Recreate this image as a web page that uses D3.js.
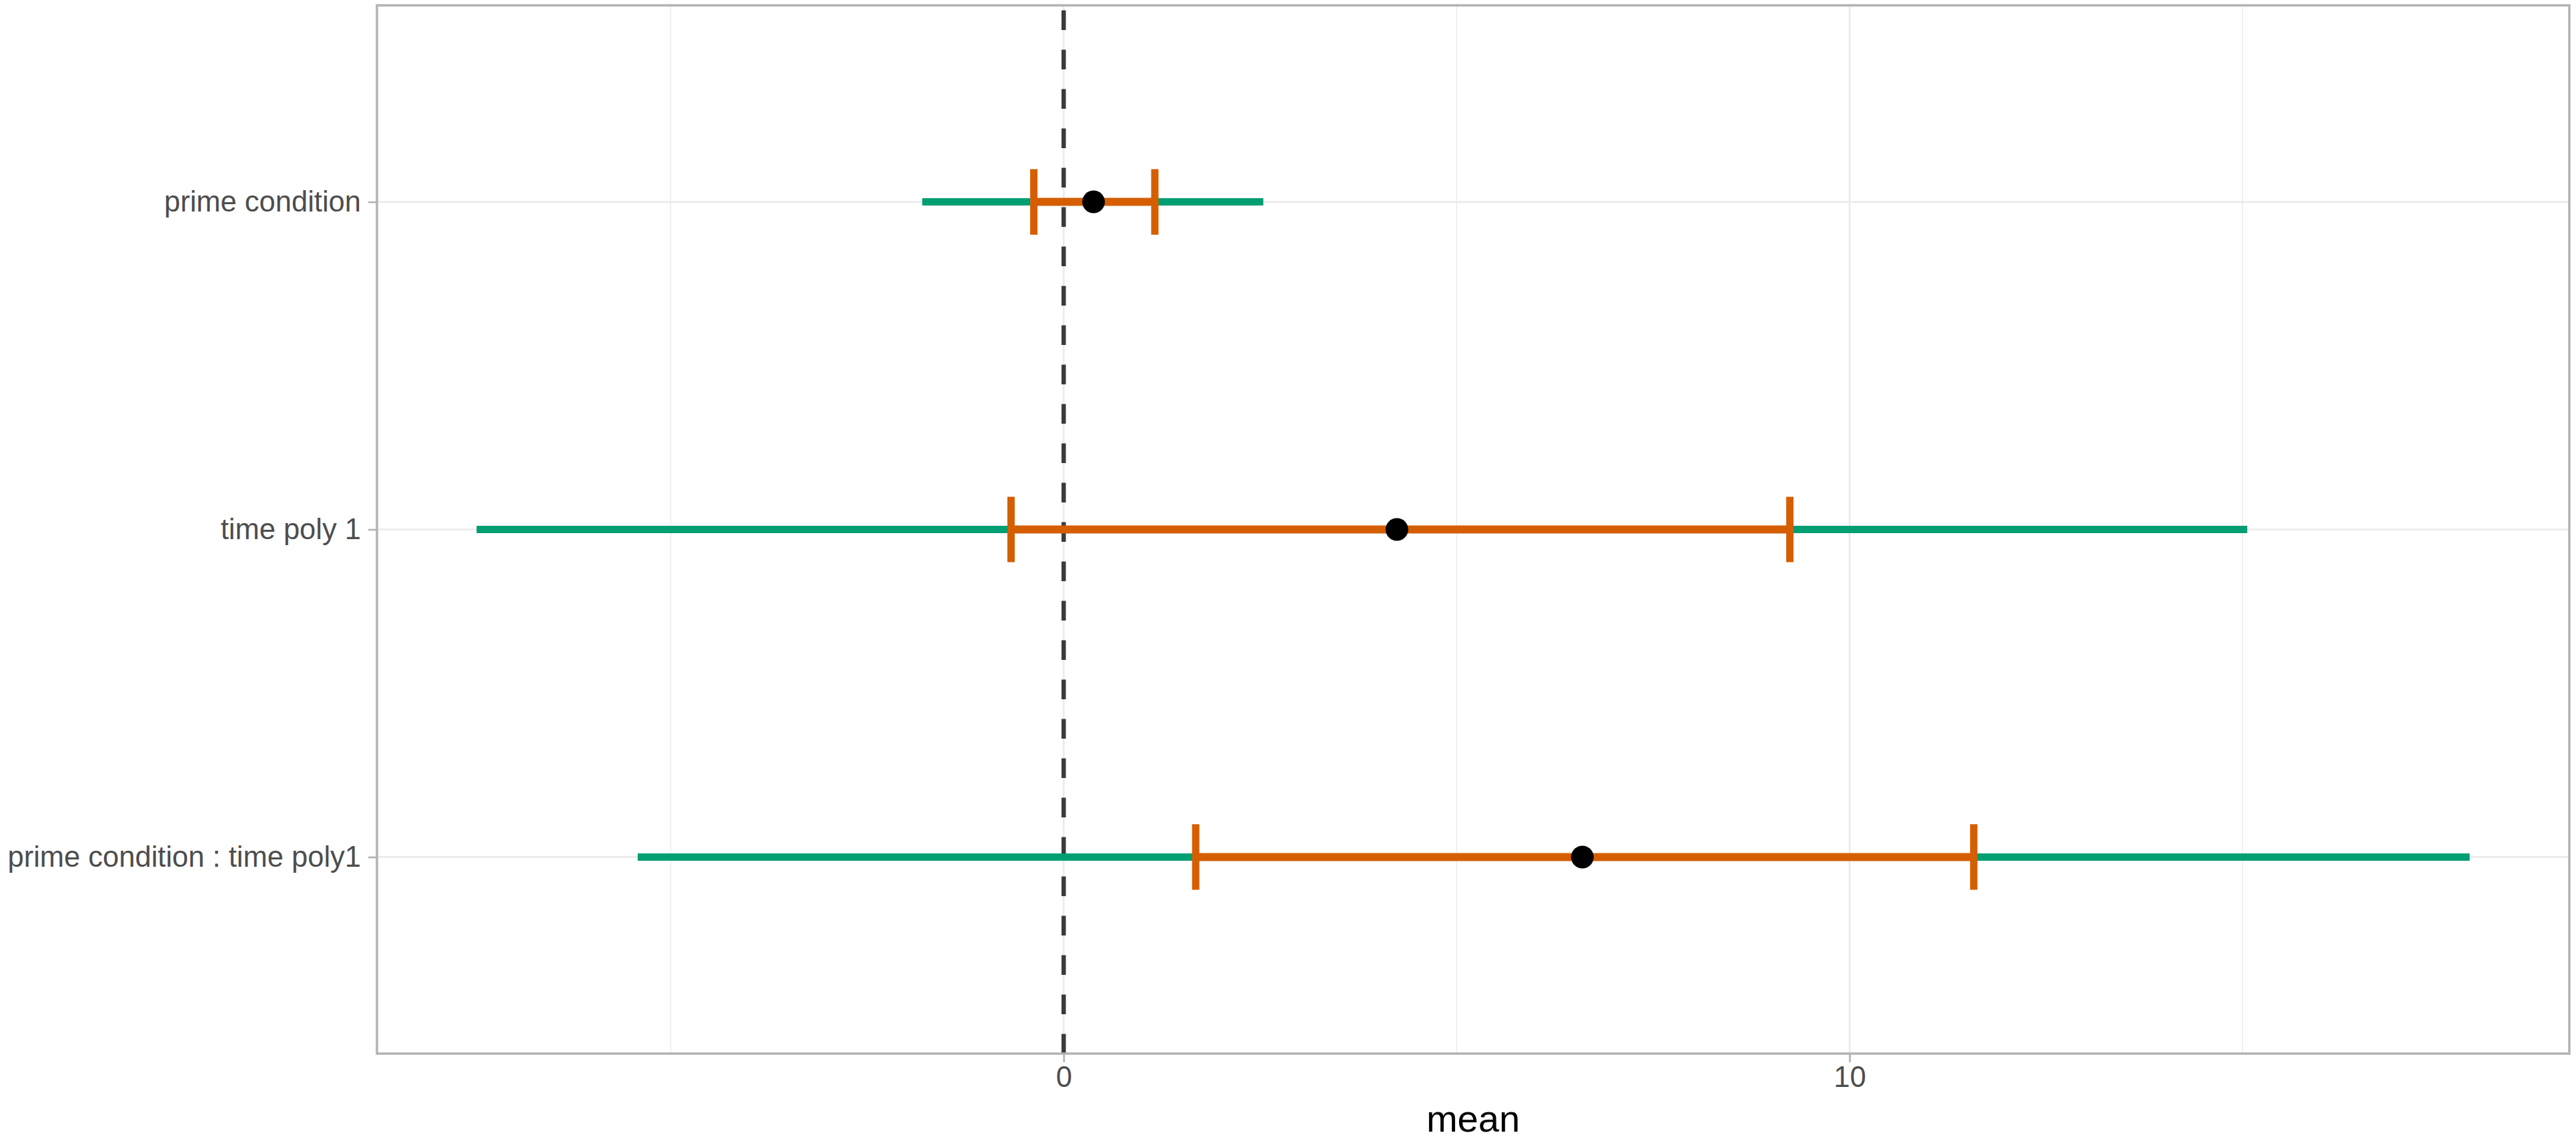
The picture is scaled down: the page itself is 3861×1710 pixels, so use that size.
<html><head>
<title>Coefficient intervals</title>
<script src="https://cdnjs.cloudflare.com/ajax/libs/d3/7.8.5/d3.min.js"></script>
<style>

  body {
    margin: 0;
    background: white;
  }

  .grid-major {
    stroke: #ebebeb;
    stroke-width: 2.7px;
  }

  .grid-minor {
    stroke: #ebebeb;
    stroke-width: 1.4px;
  }

  .axis text {
    font-family: "Liberation Sans", Arial, sans-serif;
    font-size: 43.5px;
    fill: #4d4d4d;
  }

  .axis line {
    stroke: #b3b3b3;
    stroke-width: 2.7px;
  }

  .axis path {
    display: none;
  }

</style>
</head>
<body>

<svg id="chart" width="3861" height="1710"></svg>

<script>

  // terms, top to bottom
  const terms = ["prime condition", "time poly 1", "prime condition : time poly1"];

  // posterior means
  const means = [0.38, 4.24, 6.60];

  // inner (orange) interval
  const innerLow  = [-0.38, -0.67, 1.68];
  const innerHigh = [1.16, 9.24, 11.58];

  // outer (green) interval
  const outerLow  = [-1.80, -7.47, -5.42];
  const outerHigh = [2.54, 15.06, 17.89];

  const xTicks = [0, 10];
  const xMinor = [-5, 5, 15];

  const svg = d3.select("#chart");
  const width = +svg.attr("width");
  const height = +svg.attr("height");
  const margin = { top: 8, right: 10, bottom: 131, left: 565 };
  const plotWidth = width - margin.left - margin.right;
  const plotHeight = height - margin.top - margin.bottom;

  const rows = terms.map((t, i) => ({
    term: t, mean: means[i],
    lo: innerLow[i], hi: innerHigh[i],
    lo2: outerLow[i], hi2: outerHigh[i]
  }));

  // ggplot style 5% expansion of the data range
  const ext = [d3.min(outerLow), d3.max(outerHigh)];
  const pad = (ext[1] - ext[0]) * 0.05;
  const x = d3.scaleLinear().domain([ext[0] - pad, ext[1] + pad]).range([0, plotWidth]);
  const y = d3.scalePoint().domain(terms).range([0, plotHeight]).padding(0.6);
  const band = y.step();

  const plot = svg.append("g")
                  .attr("transform", "translate(" + margin.left + "," + margin.top + ")");

  // grid
  plot.selectAll(".grid-minor").data(xMinor).enter().append("line")
      .attr("class", "grid-minor")
      .attr("x1", d => x(d)).attr("x2", d => x(d))
      .attr("y1", 0).attr("y2", plotHeight);

  plot.selectAll(".grid-x").data(xTicks).enter().append("line")
      .attr("class", "grid-major")
      .attr("x1", d => x(d)).attr("x2", d => x(d))
      .attr("y1", 0).attr("y2", plotHeight);

  plot.selectAll(".grid-y").data(terms).enter().append("line")
      .attr("class", "grid-major")
      .attr("x1", 0).attr("x2", plotWidth)
      .attr("y1", d => y(d)).attr("y2", d => y(d));

  // zero reference line, dashes start from the bottom
  plot.append("line")
      .attr("x1", x(0)).attr("x2", x(0))
      .attr("y1", plotHeight).attr("y2", 0)
      .attr("stroke", "#3a3a3a")
      .attr("stroke-width", 6.5)
      .attr("stroke-dasharray", "29.5,29.5");

  // outer interval
  plot.selectAll(".outer").data(rows).enter().append("line")
      .attr("x1", d => x(d.lo2)).attr("x2", d => x(d.hi2))
      .attr("y1", d => y(d.term)).attr("y2", d => y(d.term))
      .attr("stroke", "#009E73")
      .attr("stroke-width", 11);

  // inner interval with caps
  plot.selectAll(".inner").data(rows).enter().append("line")
      .attr("x1", d => x(d.lo)).attr("x2", d => x(d.hi))
      .attr("y1", d => y(d.term)).attr("y2", d => y(d.term))
      .attr("stroke", "#D55E00")
      .attr("stroke-width", 12);

  rows.forEach(d => {
    [d.lo, d.hi].forEach(v => {
      plot.append("line")
          .attr("x1", x(v)).attr("x2", x(v))
          .attr("y1", y(d.term) - band * 0.1).attr("y2", y(d.term) + band * 0.1)
          .attr("stroke", "#D55E00")
          .attr("stroke-width", 11);
    });
  });

  // means
  plot.selectAll(".pt").data(rows).enter().append("circle")
      .attr("cx", d => x(d.mean))
      .attr("cy", d => y(d.term))
      .attr("r", 17)
      .attr("fill", "black");

  // panel border
  plot.append("rect")
      .attr("x", 0).attr("y", 0)
      .attr("width", plotWidth).attr("height", plotHeight)
      .attr("fill", "none")
      .attr("stroke", "#b3b3b3")
      .attr("stroke-width", 3.5);

  // axes
  plot.append("g")
      .attr("class", "axis")
      .attr("transform", "translate(0," + plotHeight + ")")
      .call(d3.axisBottom(x).tickValues(xTicks).tickSize(13).tickPadding(6).tickFormat(d3.format("d")))
      .selectAll("text").attr("dy", "0.71em");

  plot.append("g")
      .attr("class", "axis")
      .call(d3.axisLeft(y).tickSize(13).tickPadding(11));

  // x title
  svg.append("text")
      .attr("x", margin.left + plotWidth / 2)
      .attr("y", 1696)
      .attr("text-anchor", "middle")
      .style("font-family", "'Liberation Sans', Arial, sans-serif")
      .style("font-size", "56px")
      .style("fill", "black")
      .text("mean");

</script>
</body>
</html>
